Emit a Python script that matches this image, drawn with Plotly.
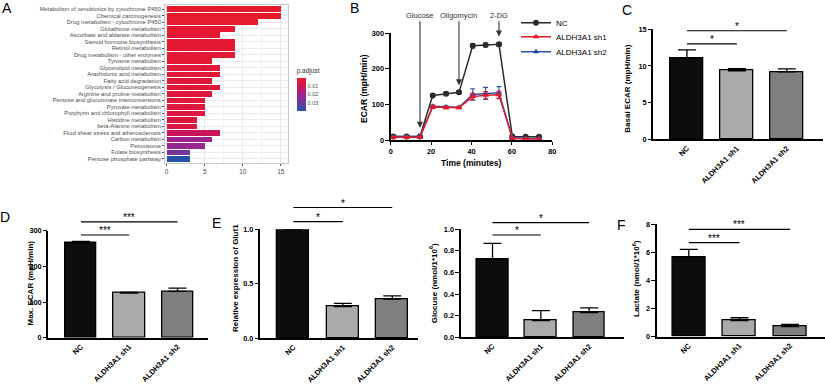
import plotly.graph_objects as go

W, H = 825, 392
FONT = "Liberation Sans, Arial, sans-serif"

# ---------------- Panel A: KEGG enrichment ----------------
kegg_terms = [
    "Metabolism of xenobiotics by cytochrome P450",
    "Chemical carcinogenesis",
    "Drug metabolism - cytochrome P450",
    "Glutathione metabolism",
    "Ascorbate and aldarate metabolism",
    "Steroid hormone biosynthesis",
    "Retinol metabolism",
    "Drug metabolism - other enzymes",
    "Tyrosine metabolism",
    "Glycerolipid metabolism",
    "Arachidonic acid metabolism",
    "Fatty acid degradation",
    "Glycolysis / Gluconeogenesis",
    "Arginine and proline metabolism",
    "Pentose and glucuronate interconversions",
    "Pyruvate metabolism",
    "Porphyrin and chlorophyll metabolism",
    "Histidine metabolism",
    "beta-Alanine metabolism",
    "Fluid shear stress and atherosclerosis",
    "Carbon metabolism",
    "Peroxisome",
    "Folate biosynthesis",
    "Pentose phosphate pathway",
]
kegg_counts = [15, 15, 12, 9, 7, 9, 9, 9, 6, 7, 7, 6, 7, 6, 5, 5, 5, 4, 4, 7, 6, 5, 3, 3]
kegg_padj = [0.0002, 0.0003, 0.0006, 0.0010, 0.0015, 0.0015, 0.0018, 0.0020, 0.0025,
             0.0028, 0.0030, 0.0032, 0.0035, 0.0038, 0.0040, 0.0042, 0.0045, 0.0050,
             0.0052, 0.0120, 0.0200, 0.0220, 0.0280, 0.0400]
padj_ticks = [0.01, 0.02, 0.03]

# ---------------- Panel B: ECAR time course ----------------
time_min = [1.3, 7.9, 14.5, 20.8, 27.4, 33.8, 40.6, 47.0, 53.6, 60.2, 66.8, 73.4]
ecar_nc = [10, 10, 10, 125, 130, 134, 265, 267, 269, 10, 9, 9]
ecar_sh1 = [8, 8, 8, 93, 91, 91, 122, 126, 127, 5, 3, 3]
ecar_sh2 = [10, 10, 10, 95, 93, 92, 128, 131, 133, 6, 4, 4]
err_nc = [3, 3, 3, 4, 4, 4, 6, 5, 5, 3, 2, 2]
err_sh1 = [2, 2, 2, 4, 3, 3, 9, 10, 10, 2, 1, 1]
err_sh2 = [2, 2, 2, 3, 3, 3, 16, 17, 17, 2, 1, 1]
injections = ["Glucose", "Oligomycin", "2-DG"]
injection_idx = [2, 5, 8]

# ---------------- Bar panels ----------------
groups = ["NC", "ALDH3A1 sh1", "ALDH3A1 sh2"]
basal_ecar = [11.1, 9.35, 9.2]
basal_err = [1.1, 0.3, 0.4]
max_ecar = [265, 125, 130]
max_err = [5, 2, 9]
glut1 = [1.0, 0.29, 0.36]
glut1_err = [0.0, 0.03, 0.03]
glucose = [0.72, 0.155, 0.228]
glucose_err = [0.15, 0.092, 0.045]
lactate = [5.65, 1.14, 0.71]
lactate_err = [0.57, 0.21, 0.17]
sig_basal = ["*", "*"]
sig_max = ["***", "***"]
sig_glut1 = ["*", "*"]
sig_glucose = ["*", "*"]
sig_lactate = ["***", "***"]


def fx(px):
    return px / W


def fy(py):
    return 1 - py / H


fig = go.Figure()
annotations = []
shapes = []
layout = {}

# ---------- Panel A ----------
neg_padj = [-p for p in kegg_padj]
fig.add_trace(go.Bar(
    x=kegg_counts, y=kegg_terms, orientation="h", width=0.88,
    xaxis="x", yaxis="y", showlegend=False, hoverinfo="skip",
    marker=dict(
        color=neg_padj,
        cmin=-max(kegg_padj), cmax=0,
        colorscale=[[0, "#2452A8"], [0.3, "#7A3498"], [0.5, "#A0228C"],
                    [0.72, "#CC1456"], [1, "#E8192C"]],
        line=dict(width=0),
        showscale=True,
        colorbar=dict(
            x=fx(296.7), xanchor="left", y=fy(65), yanchor="top",
            len=45.7, lenmode="pixels", thickness=9, thicknessmode="pixels",
            outlinewidth=0, xpad=0, ypad=0, ticks="",
            tickvals=[-t for t in padj_ticks], ticktext=[f"{t:.2f}" for t in padj_ticks],
            tickfont=dict(size=5.5, color="#4D4D4D", family=FONT),
            title=dict(text="p.adjust", side="top", font=dict(size=6.5, color="#333", family=FONT)),
        ),
    ),
))
layout["xaxis"] = dict(
    domain=[fx(165), fx(287.7)], range=[-0.22, 15.9], anchor="y", automargin=False,
    tickvals=[0, 5, 10, 15], ticks="outside", ticklen=2, tickcolor="#555",
    tickfont=dict(size=6.5, color="#4D4D4D", family=FONT),
    showgrid=True, gridcolor="#E8E8E8", gridwidth=0.7,
    minor=dict(dtick=2.5, tick0=0, showgrid=True, gridcolor="#F3F3F3", gridwidth=0.5),
    showline=True, mirror=True, linecolor="#C8C8C8", linewidth=0.8, zeroline=False,
)
layout["yaxis"] = dict(
    domain=[fy(163), fy(5)], range=[23.62, -0.66], anchor="x", automargin=False,
    type="category", tickmode="array", tickvals=kegg_terms, ticktext=kegg_terms,
    ticks="outside", ticklen=2, tickcolor="#555",
    tickfont=dict(size=5.8, color="#4D4D4D", family=FONT),
    showgrid=True, gridcolor="#EBEBEB", gridwidth=0.7,
    showline=True, mirror=True, linecolor="#C8C8C8", linewidth=0.8,
)

# ---------- Panel B ----------
series = [
    ("NC", ecar_nc, err_nc, "#2B2B2B", "circle", "legend", 22.7),
    ("ALDH3A1 sh2", ecar_sh2, err_sh2, "#2C4FA3", "triangle-up", "legend3", 51.7),
    ("ALDH3A1 sh1", ecar_sh1, err_sh1, "#E31A2C", "triangle-up", "legend2", 36.7),
]
for name, vals, errs, col, sym, leg, ly in series:
    fig.add_trace(go.Scatter(
        x=time_min, y=vals, name=name, mode="lines+markers",
        xaxis="x2", yaxis="y2", legend=leg, cliponaxis=False,
        line=dict(color=col, width=1.5),
        marker=dict(color=col, symbol=sym, size=6, line=dict(width=0)),
        error_y=dict(type="data", array=errs, color=col, thickness=1.1, width=2.5),
    ))
    layout[leg] = dict(x=fx(516), y=fy(ly), xanchor="left", yanchor="middle",
                       font=dict(size=8, color="black", family=FONT),
                       bgcolor="rgba(0,0,0,0)", itemwidth=30, borderwidth=0)
axis_common = dict(
    showline=True, linecolor="black", linewidth=1.5, ticks="outside", automargin=False,
    ticklen=3.5, tickwidth=1.4, tickcolor="black", showgrid=False, zeroline=False,
    tickfont=dict(size=7.3, color="black", family=FONT, weight="bold"),
)
layout["xaxis2"] = dict(domain=[fx(390.7), fx(552.3)], range=[0, 80], anchor="y2",
                        tickvals=[0, 20, 40, 60, 80], **axis_common)
layout["yaxis2"] = dict(domain=[fy(140), fy(33.3)], range=[0, 300], anchor="x2",
                        tickvals=[0, 100, 200, 300], **axis_common)
tip_offsets = [24, 20, 22]
for lab, i, off in zip(injections, injection_idx, tip_offsets):
    annotations.append(dict(
        x=time_min[i], y=ecar_nc[i] + off, xref="x2", yref="y2",
        ax=time_min[i], ay=351, axref="x2", ayref="y2",
        text=lab, showarrow=True, arrowhead=2, arrowsize=1.1, arrowwidth=1.1,
        arrowcolor="#333", font=dict(size=7.5, color="#333", family=FONT),
    ))
annotations.append(dict(x=fx(471), y=fy(163), xref="paper", yref="paper",
                        xanchor="center", yanchor="middle",
                        text="Time (minutes)", showarrow=False,
                        font=dict(size=8.5, color="black", family=FONT, weight="bold")))
annotations.append(dict(x=fx(364), y=fy(89), xref="paper", yref="paper",
                        xanchor="center", yanchor="middle",
                        text="ECAR (mpH/min)", showarrow=False, textangle=-90,
                        font=dict(size=8.5, color="black", family=FONT, weight="bold")))

# ---------- Bar panels ----------
bar_colors = ["#0D0D0D", "#AAAAAA", "#7F7F7F"]
panels = [
    dict(n=3, vals=basal_ecar, errs=basal_err, sig=sig_basal, sig_y=[13.0, 14.8],
         xpx=[653.3, 823], ypx=[29.3, 139.3], xr=[-0.674, 2.726], yr=[0, 15],
         tv=[0, 5, 10, 15], fmt="", title="Basal ECAR (mpH/min)", tpos=(626.7, 89)),
    dict(n=4, vals=max_ecar, errs=max_err, sig=sig_max, sig_y=[288, 325],
         xpx=[48.3, 208], ypx=[230.7, 337.7], xr=[-0.673, 2.63], yr=[0, 300],
         tv=[0, 100, 200, 300], fmt="", title="Max. ECAR (mpH/min)", tpos=(29.5, 283)),
    dict(n=5, vals=glut1, errs=glut1_err, sig=sig_glut1, sig_y=[1.07, 1.20],
         xpx=[260, 418], ypx=[229.3, 338.3], xr=[-0.674, 2.52], yr=[0, 1],
         tv=[0, 0.5, 1.0], fmt=".1f", title="Relative expression of Glut1", tpos=(235, 278)),
    dict(n=6, vals=glucose, errs=glucose_err, sig=sig_glucose, sig_y=[0.947, 1.061],
         xpx=[460.7, 624], ypx=[229.3, 337.3], xr=[-0.658, 2.72], yr=[0, 1],
         tv=[0, 0.2, 0.4, 0.6, 0.8, 1.0], fmt=".1f",
         title="Glocuse (nmol/1*10<sup>6</sup>)", tpos=(433.3, 283)),
    dict(n=7, vals=lactate, errs=lactate_err, sig=sig_lactate, sig_y=[6.69, 7.64],
         xpx=[656.7, 825], ypx=[224.3, 336.7], xr=[-0.634, 2.69], yr=[0, 8],
         tv=[0, 2, 4, 6, 8], fmt="", title="Lactate (nmol/1*10<sup>6</sup>)", tpos=(636, 279)),
]
for p in panels:
    n = p["n"]
    xa, ya = f"x{n}", f"y{n}"
    xd = [fx(p["xpx"][0]), fx(p["xpx"][1])]
    yd = [fy(p["ypx"][1]), fy(p["ypx"][0])]

    def to_px(v, r=p["xr"], d=xd):
        return d[0] + (v - r[0]) / (r[1] - r[0]) * (d[1] - d[0])

    def to_py(v, r=p["yr"], d=yd):
        return d[0] + (v - r[0]) / (r[1] - r[0]) * (d[1] - d[0])

    fig.add_trace(go.Bar(
        x=groups, y=p["vals"], width=0.65, xaxis=xa, yaxis=ya, showlegend=False,
        marker=dict(color=bar_colors, line=dict(color="black", width=1.3)),
        error_y=dict(type="data", symmetric=False, array=p["errs"],
                     arrayminus=[0, 0, 0], color="black", thickness=1.3, width=9),
    ))
    layout[f"xaxis{n}"] = dict(
        domain=xd, range=p["xr"], anchor=ya, automargin=False,
        type="category", showline=True, linecolor="black", linewidth=1.5,
        ticks="", showgrid=False, zeroline=False, tickangle=-45,
        tickfont=dict(size=7.5, color="black", family=FONT, weight="bold"),
    )
    layout[f"yaxis{n}"] = dict(
        domain=yd, range=p["yr"], anchor=xa,
        tickvals=p["tv"], tickformat=p["fmt"], **axis_common,
    )
    for k, (lab, sy) in enumerate(zip(p["sig"], p["sig_y"])):
        x1 = k + 1
        shapes.append(dict(type="line", xref="paper", yref="paper",
                           x0=to_px(0), x1=to_px(x1), y0=to_py(sy), y1=to_py(sy),
                           line=dict(color="black", width=1.2)))
        annotations.append(dict(x=to_px(x1 / 2), y=to_py(sy), xref="paper", yref="paper",
                                text=lab, showarrow=False, xanchor="center", yanchor="bottom",
                                yshift=-3, font=dict(size=10, color="black", family=FONT)))
    annotations.append(dict(x=fx(p["tpos"][0]), y=fy(p["tpos"][1]), xref="paper", yref="paper",
                            xanchor="center", yanchor="middle",
                            text=p["title"], showarrow=False, textangle=-90,
                            font=dict(size=8, color="black", family=FONT, weight="bold")))

# Panel letters
for lab, (px, py) in zip("ABCDEF", [(7, 8.5), (354, 8.5), (627, 9.5), (5, 217), (216, 223), (621, 225)]):
    annotations.append(dict(x=fx(px), y=fy(py), xref="paper", yref="paper", text=lab,
                            xanchor="center", yanchor="middle",
                            showarrow=False, font=dict(size=14, color="black", family=FONT)))

fig.update_layout(
    width=W, height=H, autosize=False,
    margin=dict(l=0, r=0, t=0, b=0),
    paper_bgcolor="white", plot_bgcolor="white",
    font=dict(family=FONT, color="black"),
    annotations=annotations, shapes=shapes, bargap=0,
    **layout,
)
fig.write_html("out.html", config={"displayModeBar": False},
               post_script="document.body.style.margin='0';")
